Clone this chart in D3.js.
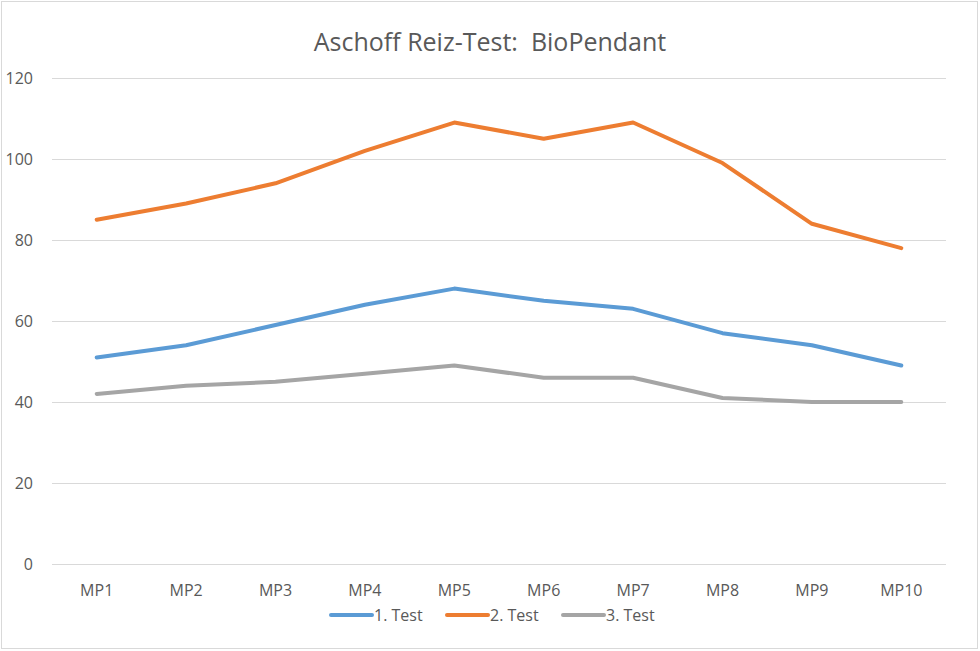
<!DOCTYPE html>
<html>
<head>
<meta charset="utf-8">
<script src="https://cdn.jsdelivr.net/npm/d3@7"></script>
<style>
  body { margin: 0; background: #fff; }
  text { font-family: "Open Sans", "Noto Sans", sans-serif; fill: #595959; }
</style>
</head>
<body>
<div id="chart"></div>
<script>
const categories = ["MP1", "MP2", "MP3", "MP4", "MP5", "MP6", "MP7", "MP8", "MP9", "MP10"]
const test1 = [51, 54, 59, 64, 68, 65, 63, 57, 54, 49]
const test2 = [85, 89, 94, 102, 109, 105, 109, 99, 84, 78]
const test3 = [42, 44, 45, 47, 49, 46, 46, 41, 40, 40]
const yTicks = [0, 20, 40, 60, 80, 100, 120]
const seriesNames = ["1. Test", "2. Test", "3. Test"]
const seriesColors = ["#5b9bd5", "#ed7d31", "#a5a5a5"]

const W = 980, H = 651
const MARGIN = { LEFT: 52, RIGHT: 32, TOP: 78, BOTTOM: 87 }

const svg = d3.select("#chart").append("svg")
  .attr("width", W)
  .attr("height", H)

// outer border
svg.append("rect")
  .attr("x", 1.5).attr("y", 1.5)
  .attr("width", W - 4).attr("height", H - 4)
  .attr("fill", "#fff")
  .attr("stroke", "#d9d9d9")
  .attr("stroke-width", 1)

const x = d3.scalePoint()
  .domain(categories)
  .range([MARGIN.LEFT, W - MARGIN.RIGHT - 2])
  .padding(0.5)

const y = d3.scaleLinear()
  .domain([0, 120])
  .range([H - MARGIN.BOTTOM, MARGIN.TOP])

// gridlines
svg.append("g")
  .selectAll("line")
  .data(yTicks)
  .join("line")
    .attr("x1", MARGIN.LEFT)
    .attr("x2", W - MARGIN.RIGHT - 2)
    .attr("y1", d => Math.round(y(d)) + 0.5)
    .attr("y2", d => Math.round(y(d)) + 0.5)
    .attr("stroke", "#d9d9d9")
    .attr("stroke-width", 1)

// y labels
svg.append("g")
  .selectAll("text")
  .data(yTicks)
  .join("text")
    .attr("x", 33)
    .attr("y", d => y(d) + 6)
    .attr("text-anchor", "end")
    .attr("font-size", "16px")
    .text(d => d)

// x labels
svg.append("g")
  .selectAll("text")
  .data(categories)
  .join("text")
    .attr("x", d => x(d))
    .attr("y", 596)
    .attr("text-anchor", "middle")
    .attr("font-size", "16px")
    .text(d => d)

// title
svg.append("text")
  .attr("x", 490)
  .attr("y", 51)
  .attr("text-anchor", "middle")
  .attr("font-size", "25px")
  .style("white-space", "pre")
  .text("Aschoff Reiz-Test:  BioPendant")

const series = [test1, test2, test3]
const line = d3.line()
  .x((d, i) => x(categories[i]))
  .y(d => y(d))

series.forEach((vals, i) => {
  svg.append("path")
    .datum(vals)
    .attr("fill", "none")
    .attr("stroke", seriesColors[i])
    .attr("stroke-width", 4)
    .attr("stroke-linecap", "round")
    .attr("stroke-linejoin", "round")
    .attr("d", line)
})

// legend
const legend = svg.append("g")
  .attr("transform", "translate(331, 615)")

seriesNames.forEach((name, i) => {
  const row = legend.append("g")
    .attr("transform", `translate(${i * 116}, 0)`)
  row.append("line")
    .attr("x1", 0).attr("x2", 41)
    .attr("y1", 0).attr("y2", 0)
    .attr("stroke", seriesColors[i])
    .attr("stroke-width", 4)
    .attr("stroke-linecap", "round")
  row.append("text")
    .attr("x", 43)
    .attr("y", 6)
    .attr("font-size", "16px")
    .text(name)
})
</script>
</body>
</html>
